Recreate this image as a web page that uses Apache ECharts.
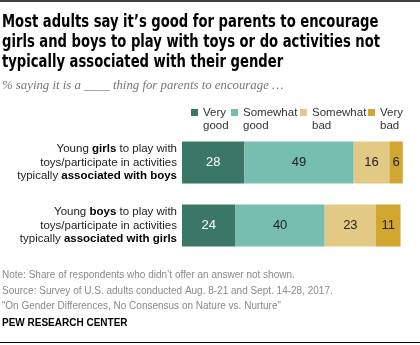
<!DOCTYPE html>
<html><head><meta charset="utf-8">
<script src="https://cdn.jsdelivr.net/npm/echarts@6/dist/echarts.min.js"></script>
<style>html,body{margin:0;padding:0;background:#fff}#c{width:420px;height:345px}</style>
</head><body><div id="c"></div>
<script>
// Data
var categories = [
  "Young {b|girls} to play with\ntoys/participate in activities\ntypically {b|associated with boys}",
  "Young {b|boys} to play with\ntoys/participate in activities\ntypically {b|associated with girls}"
];
var seriesNames = ["Very good", "Somewhat good", "Somewhat bad", "Very bad"];
var veryGood = [28, 24];
var somewhatGood = [49, 40];
var somewhatBad = [16, 23];
var veryBad = [6, 11];
var legendLabels = ["Very\ngood", "Somewhat\ngood", "Somewhat\nbad", "Very\nbad"];

var colors = ["#3a7766", "#76bfb0", "#e2ca85", "#d2a730"];
var labelColors = ["#ffffff", "#222222", "#222222", "#222222"];
var values = [veryGood, somewhatGood, somewhatBad, veryBad];
var legendLeft = [191, 231, 300, 368];
var font = "'Liberation Sans', Arial, sans-serif";

var chart = echarts.init(document.getElementById('c'), null, {renderer: 'canvas'});
var series = seriesNames.map(function (n, i) {
  return {
    name: n, type: 'bar', stack: 'all', data: values[i], barWidth: 42,
    itemStyle: {color: colors[i]},
    label: {show: true, position: 'inside', color: labelColors[i], fontSize: 13, fontFamily: font},
    emphasis: {disabled: true}
  };
});
var legends = seriesNames.map(function (n, i) {
  return {
    data: [n], left: legendLeft[i], top: 106, itemWidth: 7, itemHeight: 26,
    icon: 'path://M0,0M0,3h7v7h-7zM0,26',
    selectedMode: false, padding: 0,
    formatter: function () { return legendLabels[i]; },
    textStyle: {fontSize: 11.5, fontFamily: font, color: '#333', lineHeight: 13}
  };
});
chart.setOption({
  animation: false,
  title: [
    {text: "% saying it is a ____ thing for parents to encourage \u2026", left: 2, top: 79, padding: 0,
     textStyle: {fontFamily: "'Liberation Serif', serif", fontStyle: 'italic', fontWeight: 'normal', fontSize: 12.8, color: '#777'}},
    {text: "Note: Share of respondents who didn\u2019t offer an answer not shown.\nSource: Survey of U.S. adults conducted Aug. 8-21 and Sept. 14-28, 2017.\n\u201cOn Gender Differences, No Consensus on Nature vs. Nurture\u201d",
     left: 2, top: 268, padding: 0,
     textStyle: {fontFamily: font, fontWeight: 'normal', fontSize: 10, lineHeight: 15.3, color: '#8a8a8a'}},
    {text: "PEW RESEARCH CENTER", left: 2, top: 318.5, padding: 0,
     textStyle: {fontFamily: font, fontWeight: 'bold', fontSize: 10, color: '#000'}}
  ],
  legend: legends,
  grid: {left: 182, right: 15, top: 131, height: 126},
  xAxis: {type: 'value', min: 0, max: 100, show: false},
  yAxis: {type: 'category', data: categories, inverse: true,
    axisLine: {show: false}, axisTick: {show: false},
    axisLabel: {margin: 5, align: 'right', fontFamily: font, fontSize: 11.5, color: '#222', lineHeight: 13.5,
      rich: {b: {fontWeight: 'bold', fontFamily: font, fontSize: 11.5, color: '#000', lineHeight: 13.5}}}},
  series: series,
  graphic: [
    {type: 'line', shape: {x1: 0, y1: 1, x2: 420, y2: 1}, style: {stroke: '#000', lineWidth: 1.5}},
    {type: 'line', shape: {x1: 0, y1: 342.5, x2: 420, y2: 342.5}, style: {stroke: '#000', lineWidth: 1}},
    {type: 'text', x: 2, y: 13, scaleX: 0.86, originX: 0, originY: 0,
     style: {text: "Most adults say it\u2019s good for parents to encourage\ngirls and boys to play with toys or do activities not\ntypically associated with their gender",
       font: "bold 17px 'DejaVu Sans Condensed', sans-serif", lineHeight: 20, fill: '#000', verticalAlign: 'top'}}
  ]
});
</script></body></html>
